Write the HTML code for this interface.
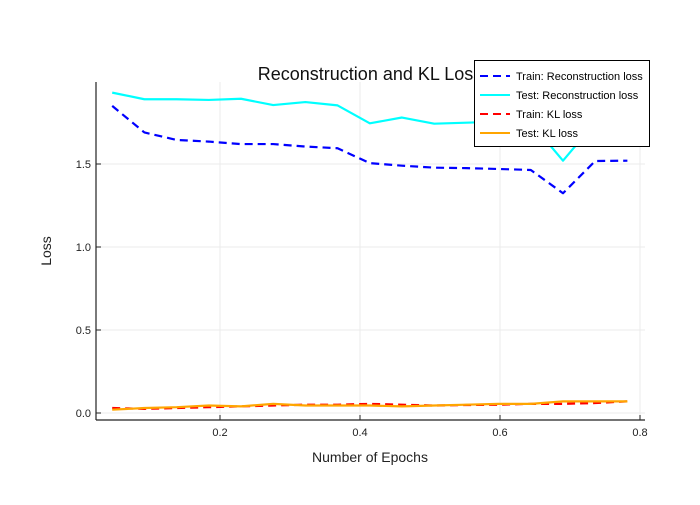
<!DOCTYPE html>
<html><head><meta charset="utf-8"><style>
body{margin:0;background:#fff;font-family:"Liberation Sans",sans-serif;}
svg text{font-family:"Liberation Sans",sans-serif;}
</style></head><body>
<svg width="700" height="500" id="c">
<g id="grid"></g>
<text x="370" y="80" font-size="18" text-anchor="middle" fill="#111">Reconstruction and KL Loss</text>
<g id="series"></g>
<line x1="96" y1="420" x2="645" y2="420" stroke="#222" stroke-width="1.2"/>
<line x1="96" y1="82" x2="96" y2="420" stroke="#222" stroke-width="1.2"/>
<g id="ticks"></g>
<text x="370" y="462" font-size="14" text-anchor="middle" fill="#222">Number of Epochs</text>
<text x="51" y="251" font-size="14" text-anchor="middle" fill="#222" transform="rotate(-90 51 251)">Loss</text>
<g>
<rect x="474.5" y="60.5" width="175" height="86" fill="#fff" stroke="#000" stroke-width="1"/>
<line x1="480" y1="76" x2="510" y2="76" stroke="#0000ff" stroke-width="2" stroke-dasharray="8,5"/>
<text x="516" y="80" font-size="11">Train: Reconstruction loss</text>
<line x1="480" y1="95" x2="510" y2="95" stroke="#00ffff" stroke-width="2"/>
<text x="516" y="99" font-size="11">Test: Reconstruction loss</text>
<line x1="480" y1="114" x2="510" y2="114" stroke="#ff0000" stroke-width="2" stroke-dasharray="8,5"/>
<text x="516" y="118" font-size="11">Train: KL loss</text>
<line x1="480" y1="133" x2="510" y2="133" stroke="#ffa500" stroke-width="2"/>
<text x="516" y="137" font-size="11">Test: KL loss</text>
</g>
</svg>
<script>
const epochs=[0.046,0.092,0.138,0.184,0.23,0.276,0.322,0.368,0.414,0.46,0.506,0.552,0.598,0.644,0.69,0.736,0.782];
const trainRecon=[1.85,1.69,1.645,1.635,1.62,1.62,1.605,1.595,1.505,1.49,1.478,1.475,1.47,1.464,1.324,1.518,1.52];
const testRecon=[1.93,1.89,1.89,1.886,1.893,1.855,1.873,1.853,1.745,1.78,1.743,1.749,1.755,1.75,1.52,1.75,1.75];
const trainKL=[0.03,0.025,0.03,0.035,0.04,0.045,0.05,0.05,0.055,0.05,0.045,0.048,0.05,0.055,0.055,0.06,0.07];
const testKL=[0.02,0.03,0.035,0.045,0.04,0.055,0.045,0.045,0.045,0.04,0.045,0.05,0.055,0.055,0.07,0.07,0.07];
const xTicks=[0.2,0.4,0.6,0.8];
const yTicks=[0,0.5,1.0,1.5];
const yTickLabels=["0.0","0.5","1.0","1.5"];
const NS="http://www.w3.org/2000/svg";
const X=v=>80+v*700, Y=v=>413-v*166;
const grid=document.getElementById('grid'),ticks=document.getElementById('ticks'),ser=document.getElementById('series');
function mk(tag,at,parent){const e=document.createElementNS(NS,tag);for(const k in at)e.setAttribute(k,at[k]);parent.appendChild(e);return e;}
xTicks.forEach(t=>{
 const g=mk('line',{x1:X(t),x2:X(t),y1:82,y2:420,stroke:'#ebebeb','stroke-width':1},grid);
 
 
 const tk=mk('line',{x1:X(t),x2:X(t),y1:420,y2:415,stroke:'#222'},ticks);
 
 
 const tx=mk('text',{x:X(t),y:436,'font-size':11,'text-anchor':'middle',fill:'#222'},ticks);
 tx.textContent=t.toFixed(1);
 
 
});
yTicks.forEach((t,i)=>{
 const g=mk('line',{x1:96,x2:645,y1:Y(t),y2:Y(t),stroke:'#ebebeb','stroke-width':1},grid);
 
 
 const tk=mk('line',{x1:96,x2:101,y1:Y(t),y2:Y(t),stroke:'#222'},ticks);
 
 
 const tx=mk('text',{x:91,y:Y(t)+4,'font-size':11,'text-anchor':'end',fill:'#222'},ticks);
 tx.textContent=yTickLabels[i];
 
 
});
function line(vals,color,dash,name){
 const p=mk('polyline',{points:vals.map((v,i)=>X(epochs[i])+','+Y(v)).join(' '),fill:'none',stroke:color,'stroke-width':2.2,'stroke-dasharray':dash||'none','stroke-linejoin':'round'},ser);
 
 
}
line(testRecon,'#00ffff',null,'test-reconstruction-line');
line(trainRecon,'#0000ff','8,5','train-reconstruction-line');
line(trainKL,'#ff0000','8,5','train-kl-line');
line(testKL,'#ffa500',null,'test-kl-line');
</script>
</body></html>
